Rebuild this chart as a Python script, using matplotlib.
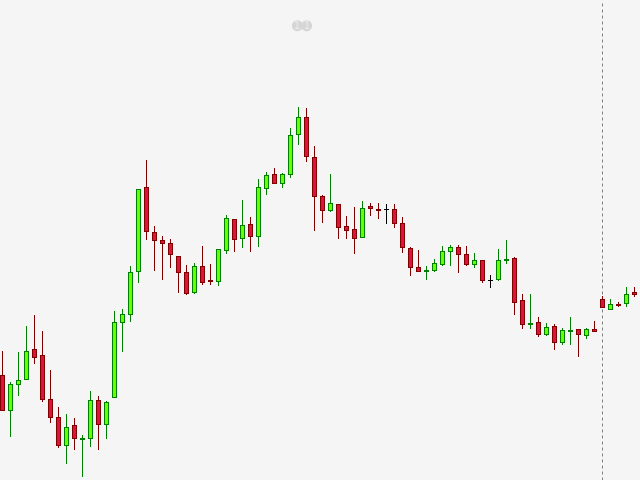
import numpy as np
import matplotlib
matplotlib.use("Agg")
import matplotlib.pyplot as plt

# Candle values, read on the chart's own inverted scale (smaller = higher on screen)
opens = [375,410,384,379,349,355,399,417,445,425,
         439,438,400,424,397,322,314,271,187,232,
         240,243,256,272,292,266,280,281,250,219,
         238,224,236,188,174,183,174,134,117,157,
         196,210,204,226,229,237,206,209,209,209,
         223,248,267,271,270,264,251,247,254,264,
         260,280,279,260,258,300,324,322,334,326,
         342,331,329,335,329,299,309,304,303,292]
closes = [410,384,380,351,357,399,417,445,427,438,
          438,400,424,402,322,314,272,189,231,240,
          243,254,272,293,266,282,281,249,218,239,
          225,236,187,175,183,174,135,117,156,196,
          210,203,227,230,238,208,208,210,209,223,
          247,267,271,270,263,251,247,254,264,260,
          280,280,260,259,302,324,323,334,327,342,
          330,330,334,329,331,307,304,305,294,294]
highs = [351,382,352,326,315,331,370,407,414,418,
         435,391,396,401,311,309,266,189,160,226,
         236,239,256,265,263,246,264,249,215,219,
         200,217,179,172,168,173,128,107,108,146,
         195,174,204,216,207,201,203,203,204,204,
         217,247,250,266,259,246,245,245,246,253,
         260,275,249,240,257,294,294,317,323,324,
         328,317,329,328,321,296,299,302,287,287]
lows = [409,436,395,378,363,401,422,447,463,449,
        476,446,449,438,396,351,321,282,239,270,
        279,267,292,294,293,284,284,285,253,251,
        247,251,246,194,182,187,177,144,161,230,
        222,211,238,238,253,236,215,218,223,227,
        252,275,270,279,271,265,265,272,265,267,
        282,287,280,263,314,328,328,336,335,349,
        344,344,356,338,330,306,308,306,306,296]
cursor_index = 75
badge_label = "11"

BG = "#f5f5f5"
UP_FILL, UP_EDGE = "#66ff00", "#008000"
DN_FILL, DN_EDGE = "#dc143c", "#800000"
PX = 72 / 100

fig = plt.figure(figsize=(6.4, 4.8), dpi=100, facecolor=BG)
ax = fig.add_axes([0, 0, 1, 1], facecolor=BG)
ax.set_xlim(-1.5 / 8, (640 - 1.5) / 8)
ax.set_ylim(480.5, 0.5)
ax.axis("off")

o, c, h, l = map(np.array, (opens, closes, highs, lows))
x = np.arange(len(o))
up = c < o
dn = c > o
flat = c == o

ax.axvline(cursor_index, color="#808080", linewidth=PX, linestyle=(0, (3, 3)), zorder=1)

for mask, edge in ((up, UP_EDGE), (dn, DN_EDGE), (flat, "#000000")):
    ax.vlines(x[mask], h[mask], l[mask], colors=edge, linewidth=PX,
              antialiased=False, zorder=2)

for mask, fill, edge in ((up, UP_FILL, UP_EDGE), (dn, DN_FILL, DN_EDGE)):
    ax.bar(x[mask], (c - o)[mask], bottom=o[mask], width=0.5, color=fill,
           edgecolor=edge, linewidth=PX, antialiased=False, zorder=3)

ax.hlines(o[flat], x[flat] - 0.25, x[flat] + 0.25, colors="#000000",
          linewidth=PX, antialiased=False, zorder=3)

# Faded badge near the top centre
for dx, ch in zip((-0.58, 0.58), badge_label):
    ax.scatter([37.56 + dx], [26.3], s=62, color="#d6d6d6", edgecolors="none", zorder=5)
    ax.text(37.56 + dx, 26.3, ch, color="#eeeeee", fontsize=7, ha="center",
            va="center", zorder=6)

fig.savefig("out.png", dpi=100, facecolor=BG)
